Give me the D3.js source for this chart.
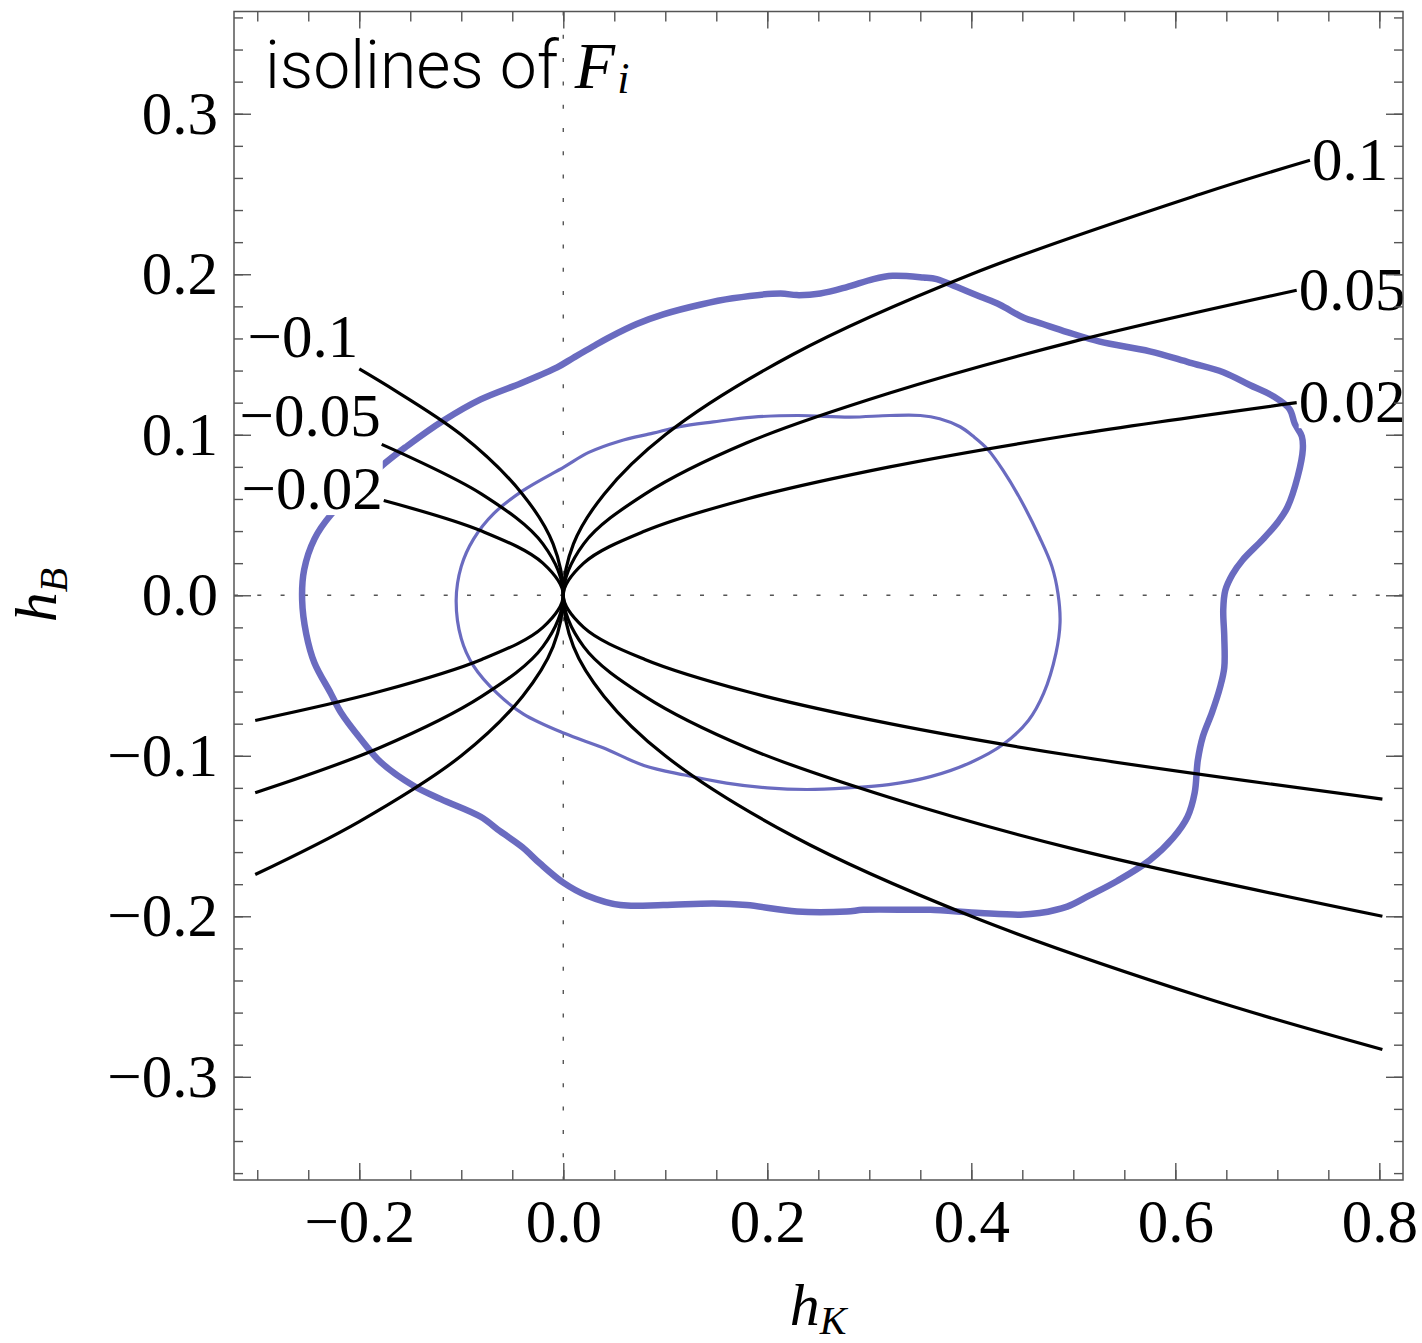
<!DOCTYPE html>
<html lang="en">

<head>
  <meta charset="UTF-8">
  <title>isolines of F_i</title>
  <script src="https://d3js.org/d3.v7.min.js"></script>
  <style>
    body { margin: 0; background: #fff; }
    .tick text { font-family: "Liberation Serif", "Times New Roman", serif; font-size: 61px; fill: #000; }
    .tick line { stroke: #555; stroke-width: 1.4; }
    .domain { display: none; }
  </style>
</head>

<body>
  <script>
    // ---- data ----
    var xTicks = [-0.2, 0, 0.2, 0.4, 0.6, 0.8]
    var yTicks = [-0.3, -0.2, -0.1, 0, 0.1, 0.2, 0.3]

    // outer (thick) contour, [hK, hB]
    var outerContour = [
      [-0.256, -0.003], [-0.254, 0.016], [-0.244, 0.035], [-0.228, 0.050], [-0.179, 0.080],
      [-0.153, 0.093], [-0.117, 0.109], [-0.081, 0.122], [-0.042, 0.132], [-0.006, 0.142],
      [0.010, 0.148], [0.029, 0.155], [0.046, 0.161], [0.072, 0.169], [0.098, 0.175],
      [0.134, 0.181], [0.166, 0.185], [0.213, 0.188], [0.229, 0.187], [0.252, 0.188],
      [0.278, 0.192], [0.304, 0.197], [0.323, 0.199], [0.353, 0.198], [0.366, 0.197],
      [0.386, 0.192], [0.409, 0.186], [0.428, 0.181], [0.451, 0.173], [0.470, 0.169],
      [0.494, 0.164], [0.526, 0.158], [0.575, 0.152], [0.614, 0.145], [0.647, 0.139],
      [0.673, 0.131], [0.696, 0.124], [0.712, 0.116], [0.717, 0.107], [0.724, 0.099],
      [0.725, 0.091], [0.720, 0.074], [0.710, 0.055], [0.701, 0.046], [0.686, 0.035],
      [0.666, 0.022], [0.656, 0.013], [0.649, 0.003], [0.647, -0.009], [0.648, -0.026],
      [0.648, -0.045], [0.644, -0.057], [0.636, -0.073], [0.627, -0.088], [0.622, -0.103],
      [0.619, -0.123], [0.612, -0.138], [0.598, -0.151], [0.575, -0.165], [0.543, -0.178],
      [0.516, -0.187], [0.494, -0.194], [0.467, -0.198], [0.448, -0.199], [0.409, -0.198],
      [0.360, -0.196], [0.343, -0.196], [0.294, -0.196], [0.278, -0.197], [0.229, -0.197],
      [0.180, -0.193], [0.147, -0.192], [0.098, -0.193], [0.056, -0.193], [0.023, -0.187],
      [0.000, -0.179], [-0.023, -0.167], [-0.040, -0.157], [-0.062, -0.147], [-0.081, -0.138],
      [-0.120, -0.127], [-0.146, -0.119], [-0.179, -0.104], [-0.198, -0.090], [-0.218, -0.073],
      [-0.228, -0.061], [-0.244, -0.042], [-0.252, -0.024]
    ]

    // inner (thin) contour, [hK, hB]
    var innerContour = [
      [-0.105, -0.003], [-0.100, 0.018], [-0.088, 0.035], [-0.068, 0.051],
      [-0.040, 0.065], [0.001, 0.080], [0.025, 0.089], [0.055, 0.096],
      [0.088, 0.101], [0.114, 0.105], [0.147, 0.108], [0.186, 0.111],
      [0.230, 0.112], [0.281, 0.111], [0.320, 0.112], [0.350, 0.112],
      [0.369, 0.110], [0.389, 0.105], [0.402, 0.099], [0.416, 0.091], [0.431, 0.078],
      [0.448, 0.060], [0.467, 0.036], [0.479, 0.018], [0.485, 0.001],
      [0.487, -0.017], [0.483, -0.036], [0.471, -0.061], [0.456, -0.078], [0.431, -0.093],
      [0.400, -0.104], [0.360, -0.113], [0.319, -0.118], [0.279, -0.120],
      [0.239, -0.121], [0.200, -0.120], [0.160, -0.117], [0.119, -0.112], [0.079, -0.106],
      [0.039, -0.095], [0.001, -0.086], [-0.039, -0.074], [-0.065, -0.061], [-0.088, -0.044],
      [-0.100, -0.027]
    ]

    // isolines, each from its labelled end to its other end, [hK, hB]
    var isoLabels = ["0.1", "0.05", "0.02", "\u22120.1", "\u22120.05", "\u22120.02"]
    var isoP10 = [[0.732, 0.271], [0.625, 0.25], [0.4, 0.2], [0.225, 0.15], [0.1, 0.1], [0.04, 0.063], [0.01, 0.032], [0, 0],
      [0.01, -0.032], [0.04, -0.063], [0.1, -0.1], [0.225, -0.15], [0.4, -0.2], [0.625, -0.25], [0.803, -0.283]]
    var isoP05 = [[0.719, 0.19], [0.5, 0.158], [0.32, 0.126], [0.18, 0.095], [0.08, 0.063], [0.02, 0.032], [0, 0],
      [0.02, -0.032], [0.08, -0.063], [0.18, -0.095], [0.32, -0.126], [0.5, -0.158], [0.803, -0.2]]
    var isoP02 = [[0.719, 0.12], [0.5, 0.1], [0.32, 0.08], [0.18, 0.06], [0.08, 0.04], [0.02, 0.02], [0, 0],
      [0.02, -0.02], [0.08, -0.04], [0.18, -0.06], [0.32, -0.08], [0.5, -0.1], [0.803, -0.127]]
    var isoM10 = [[-0.2, 0.141], [-0.1, 0.1], [-0.04, 0.063], [-0.01, 0.032], [0, 0],
      [-0.01, -0.032], [-0.04, -0.063], [-0.1, -0.1], [-0.2, -0.141], [-0.302, -0.174]]
    var isoM05 = [[-0.178, 0.094], [-0.08, 0.063], [-0.02, 0.032], [0, 0],
      [-0.02, -0.032], [-0.08, -0.063], [-0.18, -0.095], [-0.302, -0.123]]
    var isoM02 = [[-0.176, 0.059], [-0.08, 0.04], [-0.02, 0.02], [0, 0],
      [-0.02, -0.02], [-0.08, -0.04], [-0.18, -0.06], [-0.302, -0.078]]
    var isolines = [isoP10, isoP05, isoP02, isoM10, isoM05, isoM02]

    // ---- layout ----
    var W = 1422, H = 1343
    var fLeft = 234, fRight = 1403, fTop = 11.5, fBottom = 1180
    var blue = "#6a6bc0"
    var serif = "'Liberation Serif', 'Times New Roman', serif"

    var x = d3.scaleLinear().domain([-0.3228, 0.8232]).range([fLeft, fRight])
    var y = d3.scaleLinear().domain([-0.3643, 0.3637]).range([fBottom, fTop])

    var svg = d3.select("body").append("svg")
      .attr("width", W)
      .attr("height", H)

    svg.append("rect").attr("width", W).attr("height", H).attr("fill", "#fff")

    // zero lines
    svg.append("line")
      .attr("x1", x(0)).attr("x2", x(0)).attr("y1", fTop).attr("y2", fBottom)
      .attr("stroke", "#555").attr("stroke-width", 1.4).attr("stroke-dasharray", "4,19.3")
    svg.append("line")
      .attr("x1", fLeft).attr("x2", fRight).attr("y1", y(0)).attr("y2", y(0))
      .attr("stroke", "#555").attr("stroke-width", 1.4).attr("stroke-dasharray", "4,19.3")

    // contours
    var closedLine = d3.line()
      .x(function (d) { return x(d[0]) })
      .y(function (d) { return y(d[1]) })
      .curve(d3.curveCatmullRomClosed.alpha(0.5))

    svg.append("path").attr("d", closedLine(outerContour))
      .attr("fill", "none").attr("stroke", blue).attr("stroke-width", 6.5)
    svg.append("path").attr("d", closedLine(innerContour))
      .attr("fill", "none").attr("stroke", blue).attr("stroke-width", 3.2)

    // isolines
    var openLine = d3.line()
      .x(function (d) { return x(d[0]) })
      .y(function (d) { return y(d[1]) })
      .curve(d3.curveCatmullRom.alpha(0.5))

    svg.selectAll(".iso")
      .data(isolines)
      .enter().append("path")
      .attr("class", "iso")
      .attr("d", function (d) { return openLine(d) })
      .attr("fill", "none").attr("stroke", "#000").attr("stroke-width", 3.2)

    // isoline labels with white boxes
    var negDy = [-32, -29, -12]
    isolines.forEach(function (pts, i) {
      var g = svg.append("g")
      var t = g.append("text")
        .attr("font-family", serif)
        .attr("font-size", 61)
        .attr("dominant-baseline", "central")
        .text(isoLabels[i])
      if (i < 3) {
        t.attr("x", x(pts[0][0]) + 2).attr("y", y(pts[0][1]) - 1).attr("text-anchor", "start")
      } else {
        t.attr("x", x(pts[0][0]) - 1).attr("y", y(pts[0][1]) + negDy[i - 3]).attr("text-anchor", "end")
      }
      var bb = t.node().getBBox()
      g.insert("rect", "text")
        .attr("x", bb.x).attr("y", bb.y + 3).attr("width", bb.width).attr("height", bb.height - 10)
        .attr("fill", "#fff")
    })

    // frame + ticks
    var fmt = d3.format(".1f")
    var xMinor = d3.range(-0.3, 0.801, 0.05)
    var yMinor = d3.range(-0.36, 0.361, 0.02)
    svg.append("g").attr("transform", "translate(0," + fBottom + ")")
      .call(d3.axisBottom(x).tickValues(xMinor).tickSize(-10).tickFormat(""))
    svg.append("g").attr("transform", "translate(0," + fBottom + ")")
      .call(d3.axisBottom(x).tickValues(xTicks).tickSize(-17).tickPadding(19).tickFormat(fmt))
    svg.append("g").attr("transform", "translate(0," + fTop + ")")
      .call(d3.axisTop(x).tickValues(xMinor).tickSize(-10).tickFormat(""))
    svg.append("g").attr("transform", "translate(0," + fTop + ")")
      .call(d3.axisTop(x).tickValues(xTicks).tickSize(-17).tickFormat(""))

    svg.append("g").attr("transform", "translate(" + fLeft + ",0)")
      .call(d3.axisLeft(y).tickValues(yMinor).tickSize(-9).tickFormat(""))
    svg.append("g").attr("transform", "translate(" + fLeft + ",0)")
      .call(d3.axisLeft(y).tickValues(yTicks).tickSize(-17).tickPadding(16).tickFormat(fmt))
    svg.append("g").attr("transform", "translate(" + fRight + ",0)")
      .call(d3.axisRight(y).tickValues(yMinor).tickSize(-9).tickFormat(""))
    svg.append("g").attr("transform", "translate(" + fRight + ",0)")
      .call(d3.axisRight(y).tickValues(yTicks).tickSize(-17).tickFormat(""))

    svg.append("rect")
      .attr("x", fLeft).attr("y", fTop).attr("width", fRight - fLeft).attr("height", fBottom - fTop)
      .attr("fill", "none").attr("stroke", "#555").attr("stroke-width", 1.5)

    // title
    var title = svg.append("text")
      .attr("x", 265).attr("y", 88)
      .attr("font-size", 66)
    title.append("tspan")
      .attr("font-family", "Roboto, 'Liberation Sans', sans-serif")
      .attr("font-weight", 300)
      .text("isolines of ")
    title.append("tspan")
      .attr("font-family", serif).attr("font-style", "italic")
      .text("F")
    title.append("tspan")
      .attr("font-family", serif).attr("font-style", "italic")
      .attr("font-size", 44).attr("dy", 5).attr("dx", 2)
      .text("i")

    // axis labels
    var xl = svg.append("text")
      .attr("x", 818).attr("y", 1325)
      .attr("text-anchor", "middle")
      .attr("font-family", serif).attr("font-style", "italic").attr("font-size", 60)
    xl.append("tspan").text("h")
    xl.append("tspan").attr("font-size", 40).attr("dy", 9).text("K")

    var yl = svg.append("text")
      .attr("transform", "translate(56,595) rotate(-90)")
      .attr("text-anchor", "middle")
      .attr("font-family", serif).attr("font-style", "italic").attr("font-size", 60)
    yl.append("tspan").text("h")
    yl.append("tspan").attr("font-size", 40).attr("dy", 11).text("B")
  </script>
</body>

</html>
